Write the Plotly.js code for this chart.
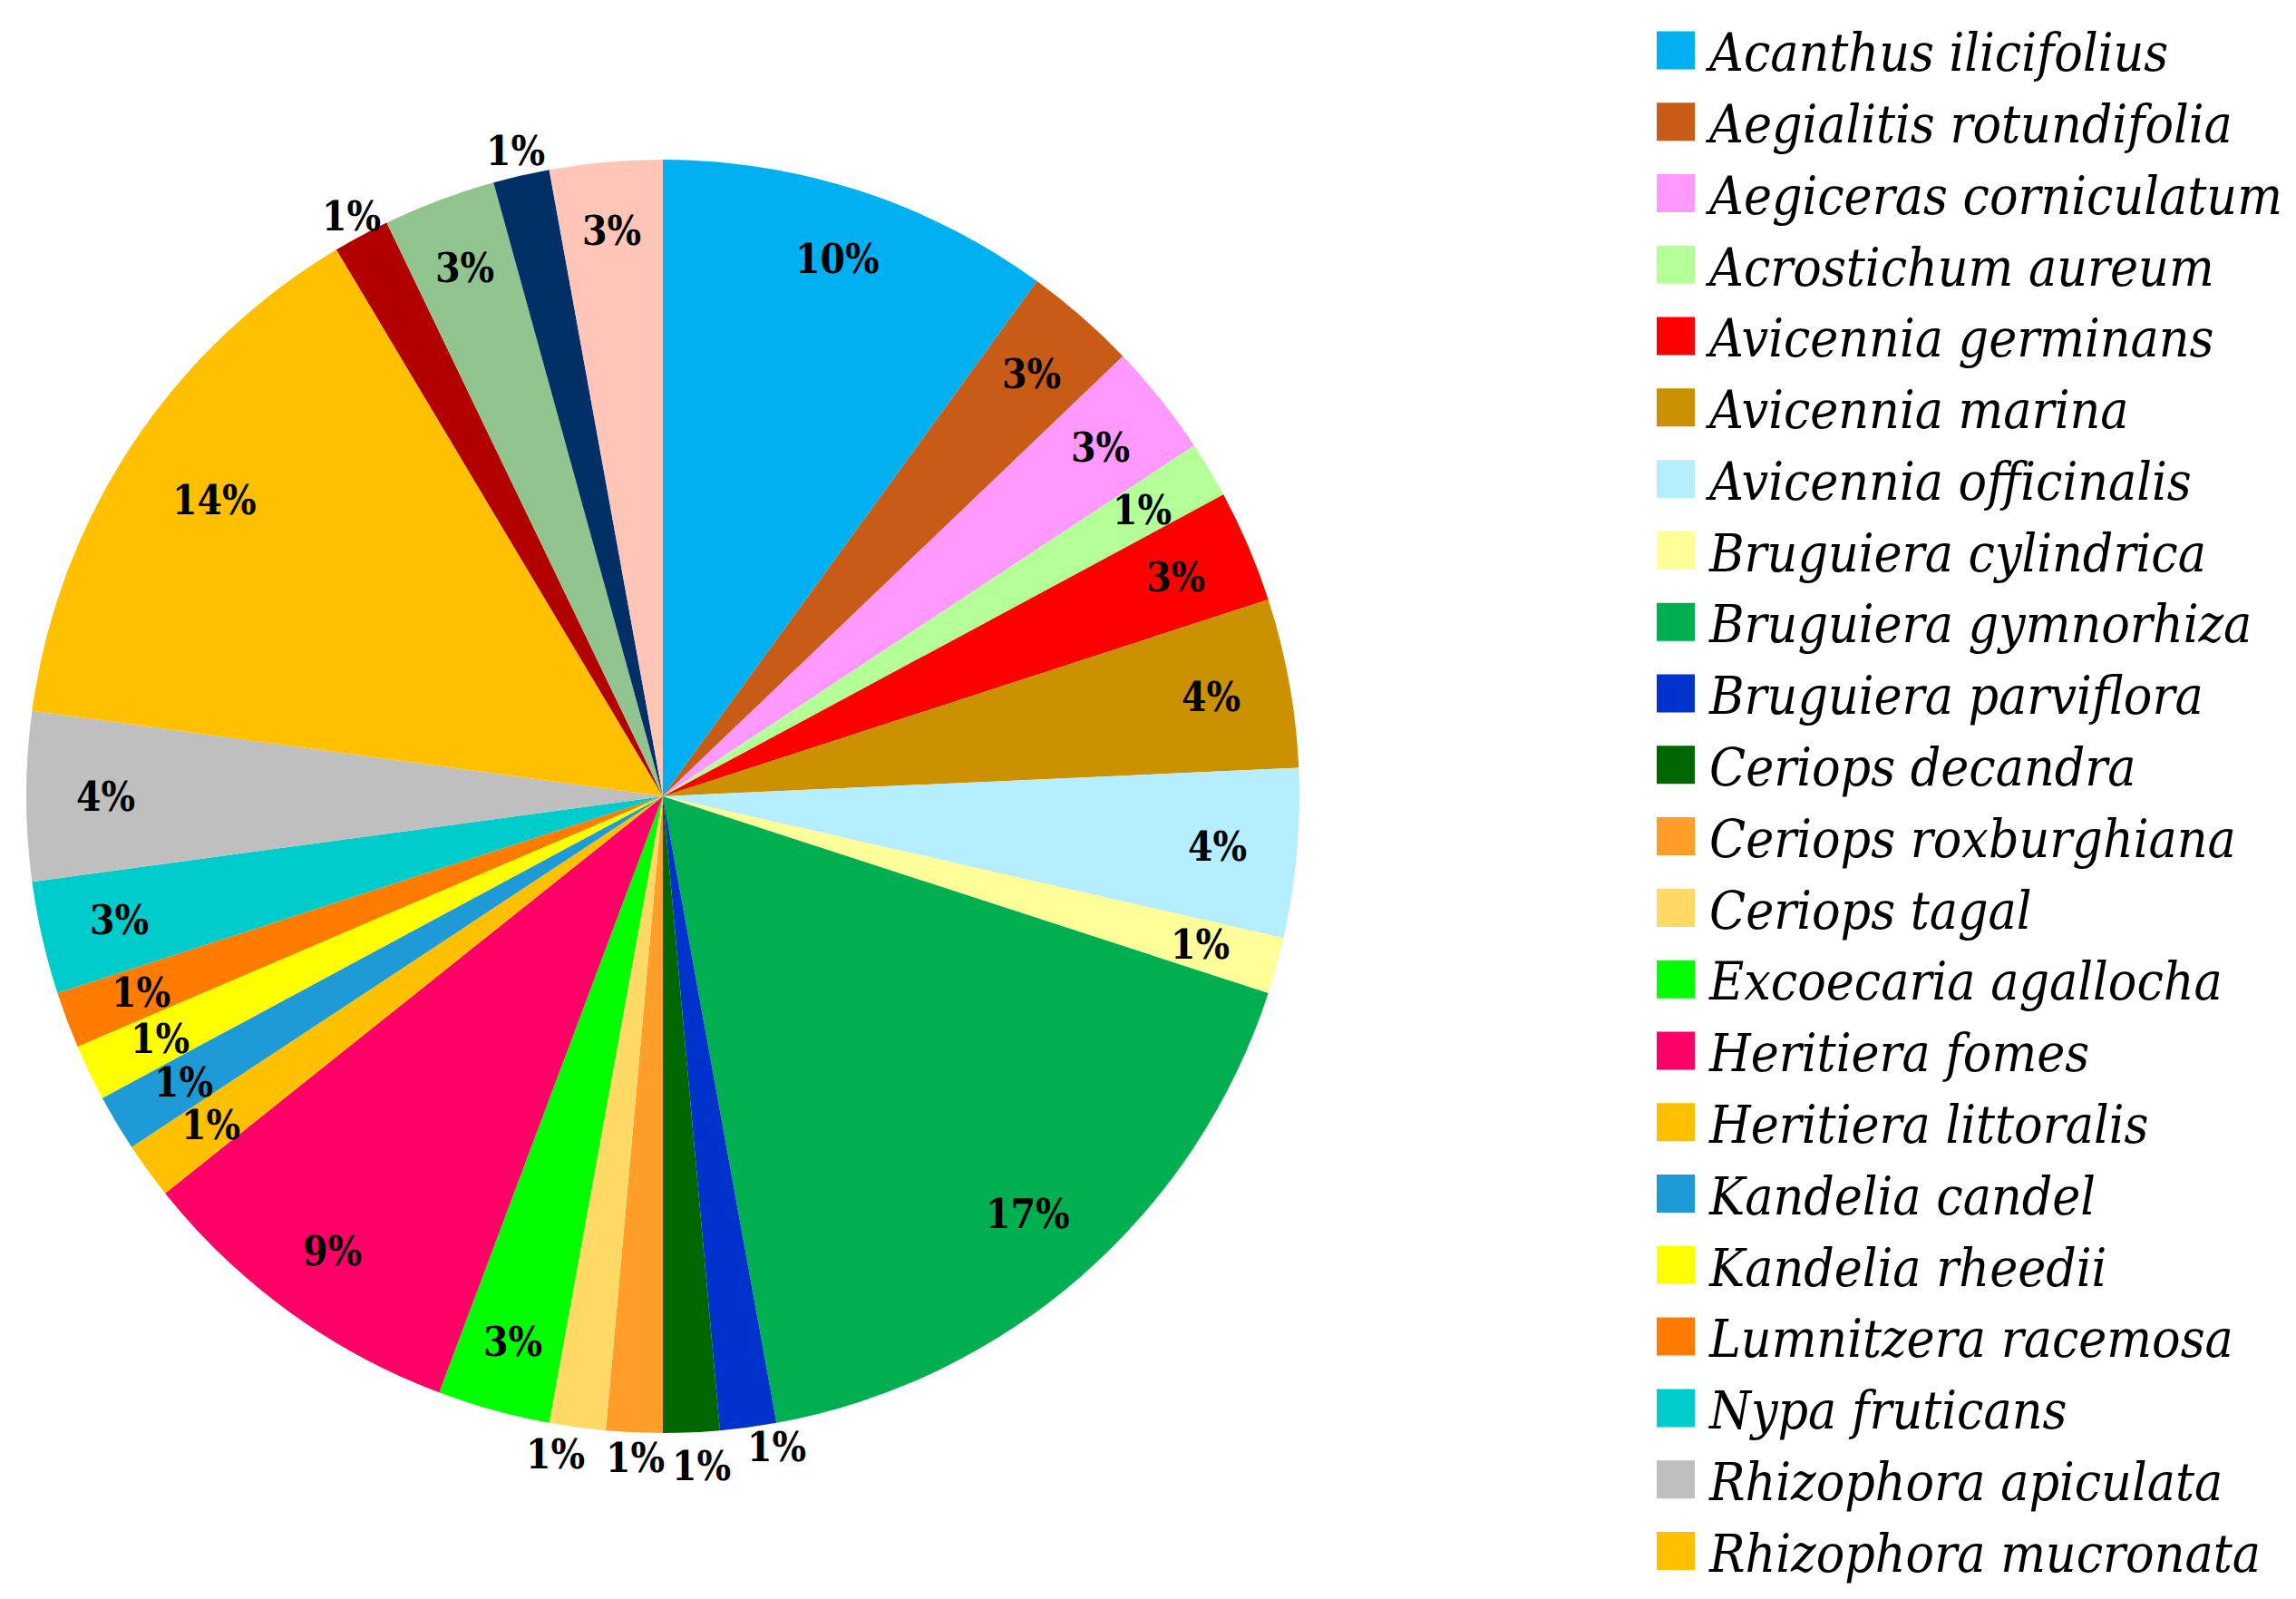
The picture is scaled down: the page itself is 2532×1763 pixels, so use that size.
<!DOCTYPE html>
<html>
<head>
<meta charset="utf-8">
<script src="https://cdn.plot.ly/plotly-3.0.1.min.js"></script>
<style>
html, body { margin: 0; padding: 0; background: #ffffff; }
#chart { width: 2532px; height: 1763px; }
</style>
</head>
<body>
<div id="chart"></div>
<script>
// ---- data ----
const species = [
  'Acanthus ilicifolius', 'Aegialitis rotundifolia', 'Aegiceras corniculatum', 'Acrostichum aureum',
  'Avicennia germinans', 'Avicennia marina', 'Avicennia officinalis', 'Bruguiera cylindrica',
  'Bruguiera gymnorhiza', 'Bruguiera parviflora', 'Ceriops decandra', 'Ceriops roxburghiana',
  'Ceriops tagal', 'Excoecaria agallocha', 'Heritiera fomes', 'Heritiera littoralis',
  'Kandelia candel', 'Kandelia rheedii', 'Lumnitzera racemosa', 'Nypa fruticans',
  'Rhizophora apiculata', 'Rhizophora mucronata', 'Sonneratia alba', 'Sonneratia apetala',
  'Xylocarpus granatum', 'Xylocarpus moluccensis'
];
const counts = [7, 2, 2, 1, 2, 3, 3, 1, 12, 1, 1, 1, 1, 2, 6, 1, 1, 1, 1, 2, 3, 10, 1, 2, 1, 2];

// ---- style ----
const sliceColors = [
  '#00B0F0', '#C85B16', '#FF99FF', '#B5FF99', '#FF0000', '#CC9100', '#B4EEFF', '#FFFF99',
  '#00B050', '#0033CC', '#006600', '#FF9E28', '#FFD966', '#00FF00', '#FF0066', '#FFC000',
  '#1E9BD7', '#FFFF00', '#FF7C00', '#00CCCC', '#BFBFBF', '#FFC000', '#B20000', '#92C48F',
  '#003066', '#FFC6B8'
];
// label placement: radius (fraction of pie radius) and angular nudge (degrees) per slice
const labelPlacement = {
  'Bruguiera parviflora': { r: 1.037, da: -2.2 },
  'Ceriops decandra': { r: 1.053, da: -0.7 },
  'Ceriops roxburghiana': { r: 1.04, da: -0.2 },
  'Ceriops tagal': { r: 1.047, da: 1.6 },
  'Sonneratia alba': { r: 1.034, da: 0 },
  'Xylocarpus granatum': { r: 1.04, da: 0 },
  'Rhizophora mucronata': { r: 0.844, da: 0 },
  'Bruguiera gymnorhiza': { r: 0.871, da: 0 }
};

const W = 2532, H = 1763;
const MT = 11;                 // top margin: legend starts here
const PH = H - MT;             // plot-area height
const CX = 731, CY = 878, R = 702;   // pie centre / radius in page pixels
const labelFont = { family: '"DejaVu Serif Condensed", "DejaVu Serif", serif', size: 44, color: '#000000', weight: 'bold' };
const legendFont = { family: '"DejaVu Serif Condensed", "DejaVu Serif", serif', size: 58.3, color: '#000000', style: 'italic' };

const toPY = py => 1 - (py - MT) / PH;

const total = counts.reduce((a, b) => a + b, 0);
let cum = 0;
const annotations = [];
counts.forEach((v, i) => {
  let mid = (cum + v / 2) / total * 2 * Math.PI;
  cum += v;
  const p = labelPlacement[species[i]];
  let f = 0.893 - 0.018 * Math.abs(Math.sin(mid));
  if (p) { f = p.r; mid += p.da * Math.PI / 180; }
  const px = CX + f * R * Math.sin(mid);
  const py = CY - f * R * Math.cos(mid);
  annotations.push({
    xref: 'paper', yref: 'paper', x: px / W, y: toPY(py),
    xanchor: 'center', yanchor: 'middle', showarrow: false,
    text: Math.round(v / total * 100) + '%', font: labelFont
  });
});

const trace = {
  type: 'pie',
  labels: species,
  values: counts,
  sort: false,
  direction: 'clockwise',
  rotation: 0,
  marker: { colors: sliceColors, line: { width: 0 } },
  textinfo: 'none',
  hoverinfo: 'label+percent',
  domain: { x: [(CX - R) / W, (CX + R) / W], y: [toPY(CY + R), toPY(CY - R)] }
};

const layout = {
  width: W, height: H,
  margin: { l: 0, r: 0, t: MT, b: 0 },
  paper_bgcolor: '#ffffff',
  showlegend: true,
  legend: {
    x: 1827 / W, xanchor: 'left', y: 1, yanchor: 'top',
    itemwidth: 48,
    font: legendFont, bgcolor: 'rgba(0,0,0,0)', borderwidth: 0, traceorder: 'normal'
  },
  annotations: annotations
};

Plotly.newPlot('chart', [trace], layout, { displayModeBar: false }).then(gd => {
  gd.querySelectorAll('.legendpie').forEach(p => p.setAttribute('transform', 'translate(21,0) scale(3.5)'));
  gd.querySelectorAll('.scrollbar').forEach(s => s.style.display = 'none');
});
</script>
</body>
</html>
